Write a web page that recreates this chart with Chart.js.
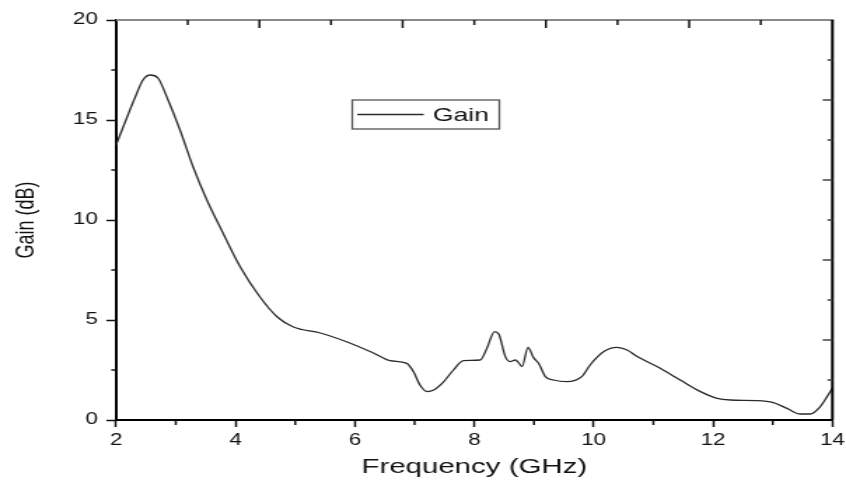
<!DOCTYPE html>
<html>
<head>
<meta charset="utf-8">
<script src="https://cdn.jsdelivr.net/npm/chart.js@4/dist/chart.umd.min.js"></script>
<style>
  html, body { margin: 0; padding: 0; background: #fff; }
  /* the reference is a horizontally stretched figure, so draw narrow and stretch */
  #c { width: 846px; height: 486px; display: block; }
</style>
</head>
<body>
<canvas id="c" width="604" height="486" style="width:846px;height:486px"></canvas>
<script>
const freqGHz = [2.0, 2.32, 2.45, 2.57, 2.70, 2.87, 3.07, 3.29, 3.52, 3.79, 4.08, 4.41, 4.70, 4.97,
    5.42, 5.87, 6.31, 6.59, 6.87, 6.98, 7.09, 7.21, 7.32, 7.49, 7.65, 7.82, 8.10, 8.21, 8.34,
    8.41, 8.52, 8.60, 8.69, 8.74, 8.80, 8.90, 8.99, 9.08, 9.19, 9.33, 9.55, 9.80, 9.94, 10.17,
    10.39, 10.56, 10.73, 11.06, 11.45, 11.79, 12.07, 12.29, 12.74, 13.01, 13.24, 13.46, 13.63,
    13.77, 13.91, 14.0];
const gainDb = [13.75, 16.15, 17.0, 17.25, 17.1, 16.0, 14.5, 12.65, 11.0, 9.35, 7.65, 6.15, 5.15, 4.65,
    4.35, 3.9, 3.35, 2.97, 2.83, 2.42, 1.75, 1.42, 1.5, 1.92, 2.5, 2.97, 3.0, 3.58, 4.42,
    4.3, 3.17, 2.92, 3.0, 2.87, 2.67, 3.63, 3.13, 2.83, 2.17, 2.0, 1.92, 2.17, 2.75, 3.42,
    3.63, 3.5, 3.17, 2.67, 2.0, 1.42, 1.08, 1.0, 0.97, 0.87, 0.58, 0.3, 0.3,
    0.58, 1.17, 1.6];
const xTicks = [2, 4, 6, 8, 10, 12, 14];
const yTicks = [0, 5, 10, 15, 20];
const seriesLabel = 'Gain';

const FONT = "'Liberation Sans', Arial, sans-serif";

// minor ticks, top/right frame and the boxed legend
const frameTicks = {
    id: 'frameTicks',
    afterDraw(chart) {
        const { ctx, chartArea: a, scales } = chart;
        const { x, y, x2, y2 } = scales;
        ctx.save();
        ctx.lineCap = 'butt';

        // top frame line (grey) and right frame line (black)
        ctx.strokeStyle = '#8a8a8a';
        ctx.lineWidth = 2;
        ctx.beginPath();
        ctx.moveTo(a.left, a.top);
        ctx.lineTo(a.right + 1, a.top);
        ctx.stroke();
        ctx.strokeStyle = '#000';
        ctx.beginPath();
        ctx.moveTo(a.right, a.top);
        ctx.lineTo(a.right, a.bottom);
        ctx.stroke();

        ctx.lineWidth = 1.5;
        ctx.strokeStyle = '#111';
        // bottom minor ticks, outward
        for (let i = 0; i < xTicks.length - 1; i++) {
            const px = x.getPixelForValue((xTicks[i] + xTicks[i + 1]) / 2);
            ctx.beginPath(); ctx.moveTo(px, a.bottom); ctx.lineTo(px, a.bottom + 5); ctx.stroke();
        }
        // left minor ticks, outward
        for (let i = 0; i < yTicks.length - 1; i++) {
            const py = y.getPixelForValue((yTicks[i] + yTicks[i + 1]) / 2);
            ctx.beginPath(); ctx.moveTo(a.left, py); ctx.lineTo(a.left - 3.5, py); ctx.stroke();
        }
        // top ticks, inward
        for (let v = 1; v < 10; v++) {
            const px = x2.getPixelForValue(v);
            const len = v % 2 === 0 ? 8 : 5;
            ctx.beginPath(); ctx.moveTo(px, a.top); ctx.lineTo(px, a.top + len); ctx.stroke();
        }
        // right ticks, inward
        ctx.strokeStyle = '#444';
        for (let v = 2; v < 20; v += 2) {
            const py = y2.getPixelForValue(v);
            const len = v % 4 === 0 ? 7 : 3.5;
            ctx.beginPath(); ctx.moveTo(a.right, py); ctx.lineTo(a.right - len, py); ctx.stroke();
        }

        // legend box
        const bx = a.left + (a.right - a.left) * 0.3297;
        const bw = (a.right - a.left) * 0.2053;
        const by = a.top + 80;
        const bh = 29;
        ctx.strokeStyle = '#555';
        ctx.lineWidth = 1.3;
        ctx.strokeRect(bx, by, bw, bh);
        const ds = chart.data.datasets[0];
        ctx.strokeStyle = ds.borderColor;
        ctx.lineWidth = 1.3;
        ctx.beginPath();
        ctx.moveTo(bx + 3.5, by + bh / 2);
        ctx.lineTo(bx + 51, by + bh / 2);
        ctx.stroke();
        ctx.fillStyle = '#111';
        ctx.font = `19px ${FONT}`;
        ctx.textBaseline = 'middle';
        ctx.fillText(ds.label, bx + 57.5, by + bh / 2 + 1);
        ctx.restore();
    }
};

new Chart(document.getElementById('c'), {
    type: 'line',
    data: {
        datasets: [{
            label: seriesLabel,
            data: freqGHz.map((f, i) => ({ x: f, y: gainDb[i] })),
            borderColor: '#2a2a2a',
            borderWidth: 1.3,
            pointRadius: 0,
            fill: false,
            cubicInterpolationMode: 'monotone'
        }]
    },
    options: {
        responsive: false,
        devicePixelRatio: 1,
        animation: false,
        events: [],
        layout: { padding: { top: 20, right: 9.7, left: 0, bottom: 0 } },
        plugins: {
            legend: { display: false },
            tooltip: { enabled: false }
        },
        scales: {
            x: {
                type: 'linear',
                position: 'bottom',
                min: 2,
                max: 14,
                afterBuildTicks: (scale) => { scale.ticks = xTicks.map(v => ({ value: v })); },
                afterFit: (scale) => {
                    scale.height = 66;
                    scale.paddingLeft = 0;
                    scale.paddingRight = 0;
                },
                grid: { drawOnChartArea: false, drawTicks: true, tickLength: 7, tickWidth: 1.5, tickColor: '#111' },
                border: { display: true, color: '#000', width: 2 },
                ticks: { color: '#111', font: { family: FONT, size: 16 }, padding: 4, maxRotation: 0 },
                title: {
                    display: true,
                    text: 'Frequency (GHz)',
                    color: '#111',
                    font: { family: FONT, size: 21 },
                    padding: { top: 0, bottom: 6.4 }
                }
            },
            y: {
                type: 'linear',
                position: 'left',
                min: 0,
                max: 20,
                afterBuildTicks: (scale) => { scale.ticks = yTicks.map(v => ({ value: v })); },
                afterFit: (scale) => {
                    scale.width = 82.9;
                    scale.paddingTop = 0;
                    scale.paddingBottom = 0;
                },
                grid: { drawOnChartArea: false, drawTicks: true, tickLength: 7, tickWidth: 1.5, tickColor: '#111' },
                border: { display: true, color: '#000', width: 2 },
                ticks: { color: '#111', font: { family: FONT, size: 16 }, padding: 6 },
                title: {
                    display: true,
                    text: 'Gain (dB)',
                    color: '#111',
                    font: { family: FONT, size: 18 },
                    padding: { top: 8, bottom: 0 }
                }
            },
            x2: { type: 'linear', position: 'top', min: 0, max: 10, display: false },
            y2: { type: 'linear', position: 'right', min: 0, max: 20, display: false }
        }
    },
    plugins: [frameTicks]
});
</script>
</body>
</html>
